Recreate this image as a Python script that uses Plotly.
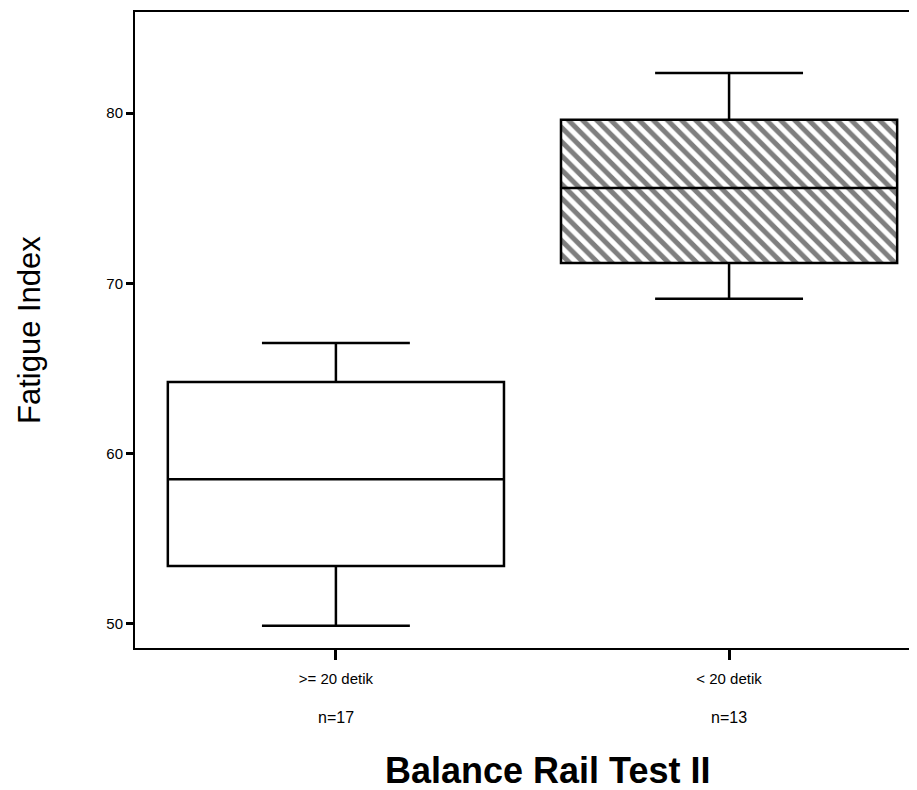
import plotly.graph_objects as go

# Data
categories = [">= 20 detik", "< 20 detik"]
counts = ["n=17", "n=13"]
positions = [0, 1]
lower_whisker = [49.9, 69.1]
q1 = [53.4, 71.2]
median = [58.5, 75.6]
q3 = [64.2, 79.6]
upper_whisker = [66.5, 82.35]
hatched = [False, True]
y_ticks = [50, 60, 70, 80]

# page offset of 8px from the html body margin
OFF = 8
W, H = 917 - OFF, 790 - OFF
L, T = 135 - OFF, 12 - OFF
plot_h = 636
B = H - T - plot_h
plot_w = W - L

fig = go.Figure()

# Hatching underneath the second box
for i in range(len(categories)):
    if hatched[i]:
        fig.add_trace(go.Bar(
            x=[positions[i]], y=[q3[i] - q1[i]], base=[q1[i]], width=0.855,
            marker=dict(color="white", line=dict(width=0),
                        pattern=dict(shape="\\", fgcolor="black", bgcolor="white",
                                     size=10, solidity=0.5)),
            showlegend=False, hoverinfo="skip"))

for i in range(len(categories)):
    fig.add_trace(go.Box(
        x=[positions[i]], q1=[q1[i]], median=[median[i]], q3=[q3[i]],
        lowerfence=[lower_whisker[i]], upperfence=[upper_whisker[i]],
        width=0.855, whiskerwidth=0.44, boxpoints=False,
        fillcolor="rgba(0,0,0,0)", line=dict(color="black", width=2.5),
        showlegend=False, name=categories[i]))

fig.update_layout(
    width=W, height=H,
    margin=dict(l=L, r=0, t=T, b=B),
    paper_bgcolor="white", plot_bgcolor="white",
    font=dict(family="Liberation Sans, Arial, sans-serif", color="black"),
    xaxis=dict(range=[-0.511, 1.478], tickvals=positions, ticktext=categories,
               showgrid=False, zeroline=False, showline=True, linecolor="black",
               linewidth=2, mirror=True, ticks="outside", ticklen=10, tickwidth=3,
               tickcolor="black", tickfont=dict(size=15), ticklabelstandoff=6),
    yaxis=dict(range=[48.59, 85.93], tickvals=y_ticks, showgrid=False, zeroline=False,
               showline=True, linecolor="black", linewidth=2, ticks="outside",
               ticklen=7, tickwidth=3, tickcolor="black", tickfont=dict(size=15)),
    bargap=0,
)

# n= labels under the category labels
for i in range(len(categories)):
    fig.add_annotation(x=positions[i], xref="x", y=(648 - 717) / plot_h, yref="paper",
                       text=counts[i], showarrow=False, font=dict(size=16),
                       xanchor="center", yanchor="middle")

fig.add_annotation(x=(547 - 135) / plot_w, xref="paper", y=(648 - 770) / plot_h, yref="paper",
                   text="<b>Balance Rail Test II</b>", showarrow=False,
                   font=dict(size=36), xanchor="center", yanchor="middle")
fig.add_annotation(x=(29 - 135) / plot_w, xref="paper", y=0.5, yref="paper",
                   text="Fatigue Index", textangle=-90, showarrow=False,
                   font=dict(size=31), xanchor="center", yanchor="middle")

fig.write_html("out.html")
